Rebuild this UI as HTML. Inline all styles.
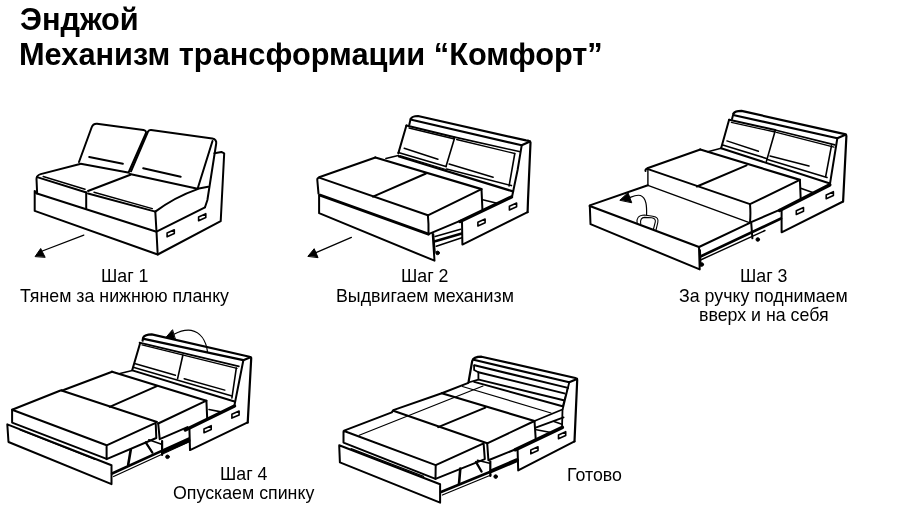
<!DOCTYPE html>
<html><head><meta charset="utf-8">
<style>
html,body{margin:0;padding:0;background:#fff;}
body{width:910px;height:512px;position:relative;overflow:hidden;font-family:"Liberation Sans",sans-serif;color:#000;}
.t{position:absolute;white-space:nowrap;line-height:1;-webkit-font-smoothing:antialiased;will-change:transform;}
.h{font-weight:bold;font-size:30.75px;}
.c{font-size:17.8px;}
svg{position:absolute;left:0;top:0;}
</style></head><body>
<div class="t h" id="t1" style="left:19.5px;top:4.8px;">Энджой</div>
<div class="t h" id="t2" style="left:18.7px;top:40.3px;">Механизм трансформации “Комфорт”</div>
<div class="t c" id="s1" style="left:101px;top:268px;">Шаг 1</div>
<div class="t c" id="s1b" style="left:20px;top:288px;">Тянем за нижнюю планку</div>
<div class="t c" id="s2" style="left:401px;top:268px;">Шаг 2</div>
<div class="t c" id="s2b" style="left:336px;top:288px;">Выдвигаем механизм</div>
<div class="t c" id="s3" style="left:740px;top:268px;">Шаг 3</div>
<div class="t c" id="s3b" style="left:678.5px;top:288px;">За ручку поднимаем</div>
<div class="t c" id="s3c" style="left:699px;top:307.3px;">вверх и на себя</div>
<div class="t c" id="s4" style="left:220px;top:466.2px;">Шаг 4</div>
<div class="t c" id="s4b" style="left:173px;top:485.4px;">Опускаем спинку</div>
<div class="t c" id="s5" style="left:567px;top:466.6px;">Готово</div>
<svg width="910" height="512" viewBox="0 0 910 512" fill="none" stroke="#000" stroke-width="2" stroke-linejoin="round" stroke-linecap="round">
<g id="sofa1">
<path d="M79,162 L91.6,127.5 Q93,123.6 97,123.8 L143.5,130 Q146.8,130.8 145.8,133.5 L128.6,172.5"/>
<path d="M80.7,163.8 L128,172.5"/>
<path d="M89.2,157 L122.9,163.8"/>
<path d="M131,171.3 L148,131.5 Q149,130 151,130.1 L212.3,138.5 Q216.8,139.5 216.2,143.5 L207.4,200 L205,207.3"/>
<path d="M212.5,141 L197.6,188.7 L208.1,186.8"/>
<path d="M143.2,168.3 L180.7,176.8"/>
<path d="M129.8,174.1 L197.6,188.7"/>
<path d="M80,164 L40.7,174.1 Q36.5,175.3 36.5,179 L37.1,192.3"/>
<path d="M37.1,177.1 L85.6,192.3"/>
<path d="M43.2,176.5 L85,189.2" stroke-width="1.5"/>
<path d="M86.2,192.3 L86.2,208.5"/>
<path d="M88,191 L130.4,174.7"/>
<path d="M88,193.5 L155.3,211.6"/>
<path d="M94,192.3 L152.3,208.6" stroke-width="1.5"/>
<path d="M155.3,211.6 Q175,197 197.6,189.1"/>
<path d="M155.3,211.6 L156.5,231.7 L157.7,254.5"/>
<path d="M37,193.5 L156.5,231.7 L205,207.3"/>
<path d="M37,193.5 L34.7,191 L34.7,210.9 L157.7,254.5 L220.7,221.2 L224.2,153.3 L221.4,151.9 L214.4,153.3"/>
<path d="M167.1,233.0 L174.3,229.8 L174.3,233.6 L167.1,236.8 Z" stroke-width="1.6"/>
<path d="M198.6,216.9 L205.8,213.7 L205.8,217.5 L198.6,220.7 Z" stroke-width="1.6"/>
<path d="M83.8,235.1 L41,251.5" stroke-width="1.3"/>
<path d="M35.3,256.3 L40.7,248.5 L45,257 Z" fill="#000" stroke-width="1"/>
</g>
<g id="sofa2">
<path d="M410.8,119 Q412,116 418,116 L526,140.4 Q530,140.8 530.5,142.5 L528,200 L527.6,212.2" stroke-width="2.2"/>
<path d="M411.5,119.7 L521.7,145.3 L530,141.4" stroke-width="2.2"/>
<path d="M410.6,118.9 L409.3,124.8"/>
<path d="M521.7,145.3 L517.6,170 L512,197"/>
<path d="M406.4,125.5 L454.8,137.2"/>
<path d="M409,128 L454.5,139" stroke-width="1.3"/>
<path d="M406.4,125.5 L398.3,153.4"/>
<path d="M454.8,137.2 L446,166.6" stroke-width="1.6"/>
<path d="M404.2,148.2 L437.9,159.2" stroke-width="1.5"/>
<path d="M398.3,152.6 L446,166.6" stroke-width="1.6"/>
<path d="M399.8,155.6 L446,169.5" stroke-width="1.3"/>
<path d="M455.8,137.4 L520.3,151.8" stroke-width="1.6"/>
<path d="M456.6,139.5 L514.8,153.5" stroke-width="1.3"/>
<path d="M514.8,153.5 L509.1,185.9" stroke-width="1.6"/>
<path d="M449.1,164 L493.1,177.3" stroke-width="1.5"/>
<path d="M446.6,169 L511.4,185.6" stroke-width="1.6"/>
<path d="M399,156.5 L513,191.4" stroke-width="2.2"/>
<path d="M385.9,158.5 L398.3,155.6" stroke-width="1.5"/>
<path d="M375.4,157.5 L481.5,189.1" stroke-width="2.2"/>
<path d="M375.4,157.5 L319.1,177.3 Q317,178.3 317.3,180 L318.5,193.6"/>
<path d="M319.1,177.6 L427.9,215.3"/>
<path d="M373,196.6 L426,173.5"/>
<path d="M427.9,215.3 L481.5,189.1 L482.4,209.1"/>
<path d="M427.9,215.3 Q428.8,224 428.5,234.1 L460.6,220.7"/>
<path d="M320,195.2 L428.5,234.1" stroke-width="3"/>
<path d="M319.1,195 L319.1,213.2 L434.5,260.7 L432.7,234.1"/>
<path d="M462,221.2 L462.4,244.6 L527.6,212.2"/>
<path d="M460,221.5 L511.4,197" stroke-width="3.5"/>
<path d="M482.7,199.7 L497,203.2" stroke-width="1.6"/>
<path d="M477.9,222.2 L485.1,219.0 L485.1,222.8 L477.9,226.0 Z" stroke-width="1.6"/>
<path d="M509.4,206.2 L516.6,203.0 L516.6,206.8 L509.4,210.0 Z" stroke-width="1.6"/>
<path d="M435.1,236.5 L460.6,229.2" stroke-width="1.5"/>
<path d="M435.1,241.3 L461.8,233.5" stroke-width="2.5"/>
<path d="M436.3,246.2 L461.8,237.7" stroke-width="1.5"/>
<path d="M433.5,234 L435,252" stroke-width="1.5"/>
<circle cx="437.6" cy="252.9" r="1.8" fill="#000" stroke-width="1"/>
<path d="M351.4,237.4 L315.4,252.8" stroke-width="1.3"/>
<path d="M308.1,256.1 L314.2,248.7 L317.9,257.3 Z" fill="#000" stroke-width="1"/>
</g>
<g id="sofa3">
<path d="M733.5,113.5 Q735,110.9 741.5,110.9 L844.8,134.1 Q846.4,134.5 846.4,136 L843.1,201.5" stroke-width="2.2"/>
<path d="M734.2,115.3 L837.3,138.2 L846,134.6" stroke-width="2.2"/>
<path d="M733.5,113.5 L732,118.9"/>
<path d="M837.3,138.5 L829.8,184.9"/>
<path d="M729.1,119.7 L775.2,129.9"/>
<path d="M731.3,122.3 L775,132" stroke-width="1.3"/>
<path d="M729.1,119.7 L721.1,148.2"/>
<path d="M775.2,130.7 L766.4,161.4" stroke-width="1.6"/>
<path d="M726.9,140.9 L758.4,151.2" stroke-width="1.5"/>
<path d="M722.7,145.1 L766.4,158.4" stroke-width="1.6"/>
<path d="M776,130.2 L834.8,144.9" stroke-width="1.6"/>
<path d="M776.5,132.4 L834,147.2" stroke-width="1.3"/>
<path d="M831.5,145.7 L825.7,176.4" stroke-width="1.6"/>
<path d="M770,156 L809,166" stroke-width="1.5"/>
<path d="M767.5,159.5 L827,177.5" stroke-width="1.6"/>
<path d="M721.1,148.2 L830,183.5" stroke-width="2"/>
<path d="M707.8,151.7 L721.1,148.2" stroke-width="1.5"/>
<path d="M700.3,149.5 L799.9,179.9" stroke-width="2.2"/>
<path d="M700.3,149.5 L647.3,168.3 Q645,169.5 645.5,171"/>
<path d="M647.3,168.9 L750,204.1"/>
<path d="M696.9,186.5 L746.6,165.3"/>
<path d="M647.9,169.5 L647.9,185.3 L749.4,222.6" stroke-width="1.4"/>
<path d="M750,204.1 L799.9,179.9 L800.7,199"/>
<path d="M750,204.1 Q750.8,213 750,222.6 L779.6,209.8"/>
<path d="M800.7,188.2 L814.8,193.2" stroke-width="1.6"/>
<path d="M781.6,210.7 L781.6,232.3 L843.1,201.5"/>
<path d="M779.5,210.5 L829.8,184.9" stroke-width="3.5"/>
<path d="M796.3,210.7 L803.5,207.5 L803.5,211.3 L796.3,214.5 Z" stroke-width="1.6"/>
<path d="M826.2,194.9 L833.4,191.7 L833.4,195.5 L826.2,198.7 Z" stroke-width="1.6"/>
<path d="M647.9,185.3 L589.8,205.4 L590.5,224.2 L699.7,269.4 L699,247 L749.4,223.2"/>
<path d="M589.8,206 L699,247" stroke-width="2.4"/>
<path d="M700.5,256.5 L781,218.5" stroke-width="2.6"/>
<path d="M700.5,260 L765,230.5" stroke-width="1.4"/>
<path d="M751.2,222.6 L752.4,238.3" stroke-width="2"/>
<path d="M700.2,250 L700.8,266" stroke-width="1.5"/>
<circle cx="757.8" cy="239.5" r="1.8" fill="#000" stroke-width="1"/>
<circle cx="701.8" cy="264.5" r="1.8" fill="#000" stroke-width="1"/>
<path d="M637.1,223.5 C636.3,218 638.5,215.2 644.4,215 L652.8,216.2 C657.2,216.8 658.6,219 657.8,222.5 L656,230" stroke-width="1.1"/>
<path d="M640.7,224 C640,219.5 641.5,217.6 644.6,217.4 L651.6,217.7 C654.5,218 655.7,219.6 655.3,221.8 L653.5,229" stroke-width="1.1"/>
<path d="M646.6,215 C646.8,206 646.5,198 640.5,195.5 C636.5,194.5 634,195.8 630,197.5" stroke-width="1.2"/>
<path d="M620.1,200 L628,192.7 L631.6,202.4 Z" fill="#000" stroke-width="1"/>
</g>
<g id="sofa4">
<path d="M142.6,340.7 L143.2,337.5 Q145,334.4 151.7,334.4 L249.5,356.7 Q251.5,357.2 251.2,358.5 L247.7,422.6" stroke-width="2.2"/>
<path d="M143.8,338.9 L243.3,360.2 L250.5,357.2" stroke-width="2.2"/>
<path d="M243.3,360.5 L234.5,405.1"/>
<path d="M139.5,342.6 L238.9,366.4" stroke-width="1.6"/>
<path d="M142,344.8 L237,368.4" stroke-width="1.3"/>
<path d="M140.1,343.2 L132.3,369.9"/>
<path d="M182.9,355 L177.6,378.7" stroke-width="1.6"/>
<path d="M236.3,368.1 L231.9,398" stroke-width="1.6"/>
<path d="M135.4,363.8 L175.4,375.2" stroke-width="1.5"/>
<path d="M184.2,378.7 L224.8,390.1" stroke-width="1.5"/>
<path d="M133.2,367.3 L232,396" stroke-width="1.5"/>
<path d="M132.3,370.4 L234.5,401.5" stroke-width="2"/>
<path d="M120,373.5 L132.3,370.4" stroke-width="1.5"/>
<path d="M112.1,371.7 L206.4,400.7" stroke-width="2.2"/>
<path d="M112.1,371.7 L63.6,390 L60.5,390.5 L12.1,409.8 L12.1,422.6 L106.6,458.9"/>
<path d="M12.1,409.8 L106.6,445.3 L155.7,422.9 L156.3,438 L106.6,459.2 L106.6,445.3"/>
<path d="M61.5,390.5 L157,422"/>
<path d="M109.7,406.8 L156.9,386.2"/>
<path d="M158.2,423.5 L206.4,400.7 L207.2,418.6"/>
<path d="M158.2,423.5 L159.7,439.2 L187.5,427.1"/>
<path d="M209,409.5 L222.2,412.1" stroke-width="1.6"/>
<path d="M189.4,428.3 L190,450.1 L247.7,422.4"/>
<path d="M185.3,430 L234.5,406" stroke-width="3.5"/>
<path d="M204.0,428.9 L211.2,425.7 L211.2,429.5 L204.0,432.7 Z" stroke-width="1.6"/>
<path d="M231.9,414.3 L239.1,411.1 L239.1,414.9 L231.9,418.1 Z" stroke-width="1.6"/>
<path d="M7.3,424.4 L8.5,442 L111.5,484.1 L111.5,465.3 L7.3,424.4"/>
<path d="M20,429.8 L95,459.3" stroke-width="1.3"/>
<path d="M130.8,449.5 L128.2,464.7" stroke-width="2.6"/>
<path d="M145.7,442.3 L152.4,452.6" stroke-width="2.2"/>
<path d="M148.8,439.8 L160.9,444.1" stroke-width="1.6"/>
<path d="M112.1,473.5 L188.7,438.6" stroke-width="2.6"/>
<path d="M113.6,476.5 L188.7,442" stroke-width="1.3"/>
<path d="M163,451.5 L188.7,440.5" stroke-width="3.6"/>
<path d="M145.7,442.3 L152.4,452.6" stroke-width="1.2"/>
<path d="M162.1,441 L162.1,455" stroke-width="2.2"/>
<circle cx="167.5" cy="456.8" r="1.8" fill="#000" stroke-width="1"/>
<path d="M207.5,351.9 C206,340 200,332 191.2,330.3 C185,329.5 179,331.5 174,334.3" stroke-width="1.2"/>
<path d="M172.3,330 L166.3,337 L175,338.9 Z" fill="#000" stroke-width="1"/>
</g>
<g id="sofa5">
<path d="M468.6,381.7 L472.2,361 Q473.5,356.7 481.5,356.7 L575.4,378 Q577.4,378.6 577.2,380 L574.5,441.4" stroke-width="2.2"/>
<path d="M473.7,359.8 L569.2,382.3 L577,379" stroke-width="2.2"/>
<path d="M474.5,365.3 L568,387.9" stroke-width="2"/>
<path d="M478.4,372.3 L564.3,393.4" stroke-width="2"/>
<path d="M478.8,379.6 L563.7,400.2" stroke-width="2"/>
<path d="M474.2,381.9 L562.5,406.3" stroke-width="2"/>
<path d="M462.4,386.5 L551,413" stroke-width="1.2"/>
<path d="M474.1,365.3 L474.1,370 L478.4,372.3 L478.4,379.6 L468.3,382.5" stroke-width="1.8"/>
<path d="M569.2,382.5 L562.5,410 L562,428" stroke-width="1.8"/>
<path d="M567.4,388.5 L562.5,406.3" stroke-width="1.2"/>
<path d="M441.8,393.2 L534.5,421" stroke-width="2.2"/>
<path d="M534.5,421 L562.4,409.5" stroke-width="1.8"/>
<path d="M535.7,427.7 L563.6,417.4" stroke-width="1.8"/>
<path d="M468.4,382.9 L441.8,393.2 L393.3,410.1 L391.8,412.4 L344.1,430.6 Q343.3,431 343.5,432 L343.5,442.6 L435.5,478.9 L435.7,465.1 L344.1,431"/>
<path d="M435.7,465.1 L483.6,443.3 L484.8,459.1 L435.5,478.9"/>
<path d="M393.3,410.7 L487.2,443.3"/>
<path d="M438.2,427.1 L485.4,407.7"/>
<path d="M359.2,435.3 L483,386" stroke-width="1.2"/>
<path d="M487.2,443.3 L534.5,421 L535.7,438.6"/>
<path d="M487.2,443.3 L488.4,460.3 L515,449.5"/>
<path d="M536.4,429.7 L549.6,432.2" stroke-width="1.6"/><path d="M554,421.6 L561.9,424.2" stroke-width="1.6"/>
<path d="M517.6,450.4 L518.2,470.4 L574.5,441.4"/>
<path d="M515.1,449.8 L562.4,427.4" stroke-width="3.5"/>
<path d="M530.8,450.0 L538.0,446.8 L538.0,450.6 L530.8,453.8 Z" stroke-width="1.6"/>
<path d="M558.5,434.9 L565.7,431.7 L565.7,435.5 L558.5,438.7 Z" stroke-width="1.6"/>
<path d="M339.2,445.3 L339.9,462.4 L440.1,502.6 L440.1,484.2 L339.2,445.3"/>
<path d="M351.1,448.6 L423.6,476.3" stroke-width="1.3"/>
<path d="M460.3,468.5 L459,484" stroke-width="2.6"/>
<path d="M476,462 L481.5,471.5" stroke-width="2.4"/>
<path d="M477.5,460.3 L489.6,463.3" stroke-width="1.6"/>
<path d="M441,492 L491,471.5" stroke-width="2.6"/>
<path d="M442.4,495 L491,475" stroke-width="1.3"/>
<path d="M491.5,471 L517,460.2" stroke-width="4"/>
<path d="M490.3,461.5 L490.3,476" stroke-width="2.2"/>
<circle cx="495.7" cy="476.6" r="1.8" fill="#000" stroke-width="1"/>
</g>
</svg>
</body></html>
